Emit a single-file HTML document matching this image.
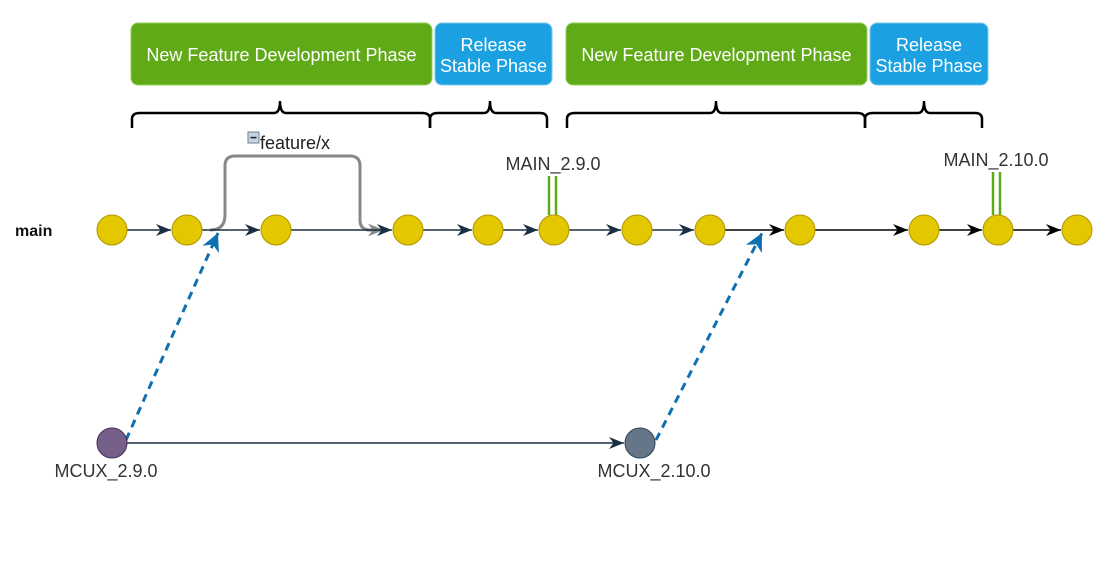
<!DOCTYPE html>
<html><head><meta charset="utf-8"><style>
html,body{margin:0;padding:0;background:#fff;}
svg{display:block;font-family:"Liberation Sans",Arial,sans-serif;}
</style></head><body>
<svg width="1114" height="566" viewBox="0 0 1114 566" xmlns="http://www.w3.org/2000/svg">
<defs>
<marker id="ad" viewBox="0 0 10 10" refX="10" refY="5" markerWidth="15" markerHeight="15" markerUnits="userSpaceOnUse" orient="auto"><path d="M0,1 L10,5 L0,9 L3,5 Z" fill="#1b2f44"/></marker>
<marker id="ab" viewBox="0 0 10 10" refX="10" refY="5" markerWidth="15" markerHeight="15" markerUnits="userSpaceOnUse" orient="auto"><path d="M0,1 L10,5 L0,9 L3,5 Z" fill="#000"/></marker>
<marker id="ag" viewBox="0 0 10 10" refX="10" refY="5" markerWidth="16" markerHeight="16" markerUnits="userSpaceOnUse" orient="auto"><path d="M0,1 L10,5 L0,9 L3,5 Z" fill="#888"/></marker>
<marker id="abl" viewBox="0 0 10 10" refX="10" refY="5" markerWidth="18" markerHeight="18" markerUnits="userSpaceOnUse" orient="auto"><path d="M0,0 L10,5 L0,10 L3,5 Z" fill="#0f6fb0"/></marker>
</defs>

<rect x="131" y="23" width="301" height="62" rx="7" fill="#60a917" stroke="#8fcf5a" stroke-width="1"/>
<text x="281.5" y="61" font-size="18" fill="#fff" text-anchor="middle">New Feature Development Phase</text>
<rect x="435" y="23" width="117" height="62" rx="7" fill="#1ba1e2" stroke="#7cc8ee" stroke-width="1"/>
<text x="493.5" y="51" font-size="18" fill="#fff" text-anchor="middle">Release</text>
<text x="493.5" y="72" font-size="18" fill="#fff" text-anchor="middle">Stable Phase</text>
<rect x="566" y="23" width="301" height="62" rx="7" fill="#60a917" stroke="#8fcf5a" stroke-width="1"/>
<text x="716.5" y="61" font-size="18" fill="#fff" text-anchor="middle">New Feature Development Phase</text>
<rect x="870" y="23" width="118" height="62" rx="7" fill="#1ba1e2" stroke="#7cc8ee" stroke-width="1"/>
<text x="929" y="51" font-size="18" fill="#fff" text-anchor="middle">Release</text>
<text x="929" y="72" font-size="18" fill="#fff" text-anchor="middle">Stable Phase</text>

<g fill="none" stroke="#000" stroke-width="2.5">
<path d="M132,128 V119 Q132,113 140,113 H274 Q280,113 280,101 Q280,113 286,113 H422 Q430,113 430,119 V128"/>
<path d="M430,128 V119 Q430,113 438,113 H484 Q490,113 490,101 Q490,113 496,113 H540 Q547,113 547,119 V128"/>
<path d="M567,128 V119 Q567,113 575,113 H710 Q716,113 716,101 Q716,113 722,113 H857 Q865,113 865,119 V128"/>
<path d="M865,128 V119 Q865,113 873,113 H918 Q924,113 924,101 Q924,113 930,113 H975 Q982,113 982,119 V128"/>
</g>

<text x="15" y="236" font-size="16" font-weight="bold" fill="#111">main</text>

<rect x="248" y="132" width="11" height="11" fill="#c8d4e0" stroke="#6a7f98" stroke-width="1"/>
<rect x="250.5" y="136.8" width="6" height="1.6" fill="#222"/>
<text x="260" y="149" font-size="18" fill="#222">feature/x</text>
<path d="M210,230 Q225,230 225,215 V166 Q225,156 235,156 H350 Q360,156 360,166 V220 Q360,230 370,230 H384" fill="none" stroke="#888" stroke-width="3" marker-end="url(#ag)"/>

<g stroke="#1b2f44" stroke-width="1.5" fill="none">
<line x1="127" y1="230" x2="171" y2="230" marker-end="url(#ad)"/>
<line x1="202" y1="230" x2="260" y2="230" marker-end="url(#ad)"/>
<line x1="291" y1="230" x2="392" y2="230" marker-end="url(#ad)"/>
<line x1="423" y1="230" x2="472" y2="230" marker-end="url(#ad)"/>
<line x1="503" y1="230" x2="538" y2="230" marker-end="url(#ad)"/>
<line x1="569" y1="230" x2="621" y2="230" marker-end="url(#ad)"/>
<line x1="652" y1="230" x2="694" y2="230" marker-end="url(#ad)"/>
<line x1="127" y1="443" x2="624" y2="443" marker-end="url(#ad)"/>
</g>
<g stroke="#000" stroke-width="1.5" fill="none">
<line x1="725" y1="230" x2="784" y2="230" marker-end="url(#ab)"/>
<line x1="815" y1="230" x2="908" y2="230" marker-end="url(#ab)"/>
<line x1="939" y1="230" x2="982" y2="230" marker-end="url(#ab)"/>
<line x1="1013" y1="230" x2="1061" y2="230" marker-end="url(#ab)"/>
</g>

<g stroke="#60a917" stroke-width="2.5">
<line x1="549" y1="176" x2="549" y2="215"/><line x1="556" y1="176" x2="556" y2="215"/>
<line x1="993" y1="172" x2="993" y2="215"/><line x1="1000" y1="172" x2="1000" y2="215"/>
</g>
<text x="553" y="170" font-size="18" fill="#333" text-anchor="middle">MAIN_2.9.0</text>
<text x="996" y="166" font-size="18" fill="#333" text-anchor="middle">MAIN_2.10.0</text>

<g fill="#e3c800" stroke="#b09500" stroke-width="1">
<circle cx="112" cy="230" r="15"/><circle cx="187" cy="230" r="15"/><circle cx="276" cy="230" r="15"/>
<circle cx="408" cy="230" r="15"/><circle cx="488" cy="230" r="15"/><circle cx="554" cy="230" r="15"/>
<circle cx="637" cy="230" r="15"/><circle cx="710" cy="230" r="15"/><circle cx="800" cy="230" r="15"/>
<circle cx="924" cy="230" r="15"/><circle cx="998" cy="230" r="15"/><circle cx="1077" cy="230" r="15"/>
</g>

<g stroke="#0f6fb0" stroke-width="3" stroke-dasharray="8,6" fill="none">
<line x1="126" y1="440" x2="218" y2="233" marker-end="url(#abl)"/>
<line x1="656" y1="440" x2="762" y2="233" marker-end="url(#abl)"/>
</g>

<circle cx="112" cy="443" r="15" fill="#76608a" stroke="#432d57" stroke-width="1"/>
<circle cx="640" cy="443" r="15" fill="#647687" stroke="#314354" stroke-width="1"/>
<text x="106" y="477" font-size="18" fill="#333" text-anchor="middle">MCUX_2.9.0</text>
<text x="654" y="477" font-size="18" fill="#333" text-anchor="middle">MCUX_2.10.0</text>
</svg>
</body></html>
